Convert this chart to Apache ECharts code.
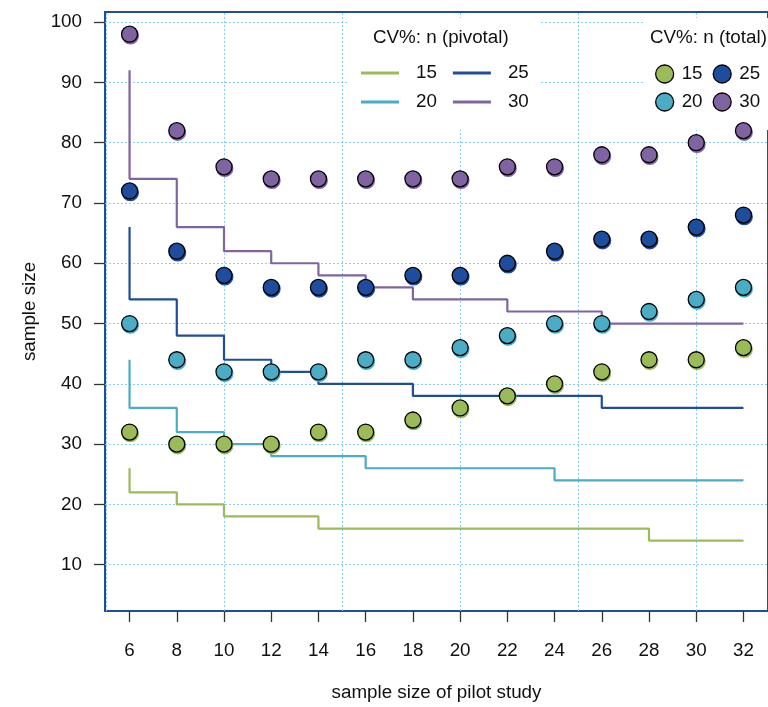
<!DOCTYPE html>
<html><head><meta charset="utf-8">
<script src="https://cdn.jsdelivr.net/npm/echarts@6/dist/echarts.min.js"></script>
<style>html,body{margin:0;padding:0;background:#fff}#c{width:768px;height:707px}</style>
</head><body><div id="c"></div>
<script>
// ---- data ----
const pilotN = [6, 8, 10, 12, 14, 16, 18, 20, 22, 24, 26, 28, 30, 32];
const cvLevels = ['15', '20', '25', '30'];
const pivotStart = [26, 44, 66, 92];
const pivot15 = [22, 20, 18, 18, 16, 16, 16, 16, 16, 16, 16, 14, 14, 14];
const pivot20 = [36, 32, 30, 28, 28, 26, 26, 26, 26, 24, 24, 24, 24, 24];
const pivot25 = [54, 48, 44, 42, 40, 40, 38, 38, 38, 38, 36, 36, 36, 36];
const pivot30 = [74, 66, 62, 60, 58, 56, 54, 54, 52, 52, 50, 50, 50, 50];
const total15 = [32, 30, 30, 30, 32, 32, 34, 36, 38, 40, 42, 44, 44, 46];
const total20 = [50, 44, 42, 42, 42, 44, 44, 46, 48, 50, 50, 52, 54, 56];
const total25 = [72, 62, 58, 56, 56, 56, 58, 58, 60, 62, 64, 64, 66, 68];
const total30 = [98, 82, 76, 74, 74, 74, 74, 74, 76, 76, 78, 78, 80, 82];
const xTickLabels = [6, 8, 10, 12, 14, 16, 18, 20, 22, 24, 26, 28, 30, 32];
const yTickLabels = [10, 20, 30, 40, 50, 60, 70, 80, 90, 100];
const xGridLines = [5, 10, 15, 20, 25, 30];
const yGridLines = [10, 20, 30, 40, 50, 60, 70, 80, 90, 100];

// ---- styling ----
const colors = ['#9BBB59', '#4BACC6', '#1E4D9E', '#8064A2'];
const FONT = 'Liberation Sans, Arial, sans-serif';
const FS = 18.8;
const TXT = '#111';

const pivots = [pivot15, pivot20, pivot25, pivot30];
const totals = [total15, total20, total25, total30];

const series = [];
series.push({
  type: 'line', data: [], silent: true, z: 1,
  markLine: {
    silent: true, symbol: 'none', z: 1, animation: false,
    label: { show: false },
    lineStyle: { type: [2, 2], color: '#87CEFA', width: 1 },
    data: xGridLines.map(v => ({ xAxis: v })).concat(yGridLines.map(v => ({ yAxis: v })))
  }
});
cvLevels.forEach((cv, i) => {
  series.push({
    name: 'pivotal ' + cv, type: 'line', step: 'end', symbol: 'none', showSymbol: false,
    z: 2, animation: false,
    lineStyle: { color: colors[i], width: 2.2 },
    itemStyle: { color: colors[i] },
    data: [[pilotN[0], pivotStart[i]]].concat(pilotN.map((x, k) => [x, pivots[i][k]]))
  });
});
cvLevels.forEach((cv, i) => {
  series.push({
    name: 'total ' + cv, type: 'scatter', symbol: 'circle', symbolSize: 16, z: 3, animation: false,
    itemStyle: { color: colors[i], borderColor: '#000', borderWidth: 1.3, opacity: 1,
      shadowColor: colors[i], shadowOffsetX: 0.8, shadowOffsetY: 1.6, shadowBlur: 0 },
    data: pilotN.map((x, k) => [x, totals[i][k]])
  });
});

function lineLegend(names, top) {
  return {
    data: names.map(n => 'pivotal ' + n), left: 361, top: top, padding: 0,
    orient: 'horizontal', icon: 'rect', itemWidth: 38, itemHeight: 2.8, itemGap: 16,
    selectedMode: false,
    formatter: n => n.split(' ')[1],
    textStyle: { fontFamily: FONT, fontSize: FS, color: TXT, padding: [0, 0, 0, 12], lineHeight: 20 }
  };
}
function pointLegend(names, top) {
  return {
    data: names.map(n => 'total ' + n), left: 655, top: top, padding: 0,
    orient: 'horizontal', itemWidth: 18, itemHeight: 18, itemGap: 10,
    selectedMode: false,
    itemStyle: { borderColor: '#000', borderWidth: 1.3 },
    formatter: n => n.split(' ')[1],
    textStyle: { fontFamily: FONT, fontSize: FS, color: TXT, padding: [0, 0, 0, 3], lineHeight: 20 }
  };
}

const option = {
  backgroundColor: '#fff',
  animation: false,
  grid: { left: 105, top: 12, width: 672, height: 601, show: true,
    borderColor: '#1F4EA0', borderWidth: 2, backgroundColor: 'transparent', containLabel: false },
  xAxis: {
    type: 'value', min: 4.96, max: 33.04,
    axisLine: { show: false }, splitLine: { show: false },
    axisTick: { show: true, length: 11, customValues: xTickLabels, lineStyle: { color: '#333', width: 1.3 } },
    axisLabel: { customValues: xTickLabels, fontFamily: FONT, fontSize: FS, color: TXT, margin: 30 },
    name: 'sample size of pilot study', nameLocation: 'middle', nameGap: 72,
    nameTextStyle: { fontFamily: FONT, fontSize: FS, color: TXT }
  },
  yAxis: {
    type: 'value', min: 2.32, max: 101.68,
    axisLine: { show: false }, splitLine: { show: false },
    axisTick: { show: true, length: 11, customValues: yTickLabels, lineStyle: { color: '#333', width: 1.3 } },
    axisLabel: { customValues: yTickLabels, fontFamily: FONT, fontSize: FS, color: TXT, margin: 23 },
    name: 'sample size', nameLocation: 'middle', nameGap: 63, nameRotate: 90,
    nameTextStyle: { fontFamily: FONT, fontSize: FS, color: TXT }
  },
  title: [
    { text: 'CV%: n (pivotal)', left: 373, top: 28, padding: 0,
      textStyle: { fontFamily: FONT, fontSize: FS, fontWeight: 'normal', color: TXT, lineHeight: 20 } },
    { text: 'CV%: n (total)', left: 650, top: 28, padding: 0,
      textStyle: { fontFamily: FONT, fontSize: FS, fontWeight: 'normal', color: TXT, lineHeight: 20 } }
  ],
  legend: [
    lineLegend(['15', '25'], 63),
    lineLegend(['20', '30'], 92),
    pointLegend(['15', '25'], 64),
    pointLegend(['20', '30'], 92)
  ],
  graphic: [
    { type: 'rect', z: 1.5, silent: true, shape: { x: 347, y: 18, width: 193, height: 112 }, style: { fill: '#fff' } },
    { type: 'rect', z: 1.5, silent: true, shape: { x: 645, y: 18, width: 140, height: 112 }, style: { fill: '#fff' } }
  ],
  series: series
};
const chart = echarts.init(document.getElementById('c'), null, { renderer: 'canvas' });
chart.setOption(option);
</script>
</body></html>
